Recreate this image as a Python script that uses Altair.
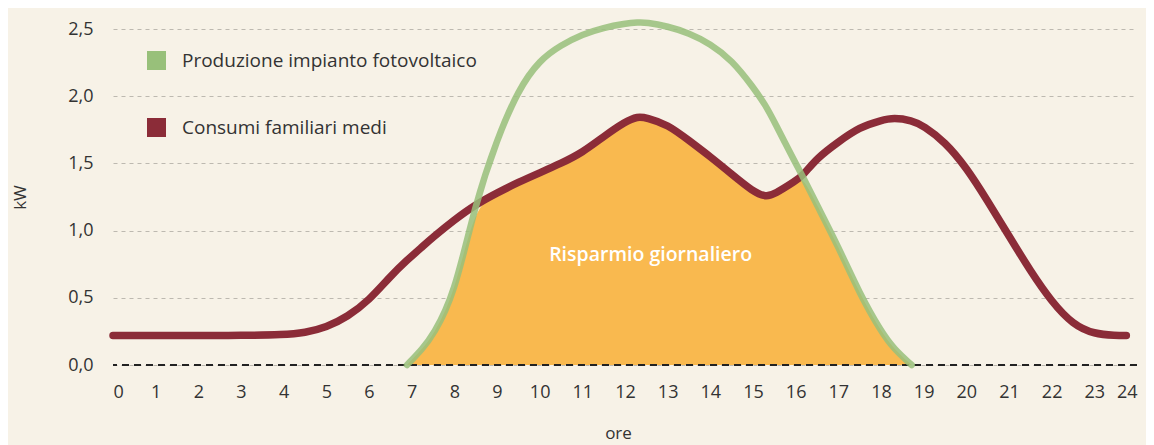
import altair as alt
import pandas as pd

# hours of the day (common grid)
hours = [0, 1, 2, 3, 4, 4.5, 5, 5.5, 6, 6.5, 6.89, 7.25, 7.5, 8, 8.48, 9, 9.5, 10, 10.5, 11,
         11.5, 12, 12.3, 12.5, 13, 13.5, 14, 14.5, 15, 15.3, 15.5, 16, 16.17, 16.5, 17,
         17.5, 18, 18.3, 18.72, 19, 19.5, 20, 20.5, 21, 21.5, 22, 22.5, 23, 23.5, 23.75]

# average household consumption (kW)
consumi = [0.22, 0.22, 0.22, 0.22, 0.225, 0.24, 0.28, 0.36, 0.48, 0.66, 0.78, 0.88, 0.95,
           1.08, 1.19, 1.28, 1.36, 1.43, 1.5, 1.58, 1.7, 1.81, 1.85, 1.84, 1.79, 1.67, 1.55,
           1.42, 1.29, 1.25, 1.27, 1.37, 1.41, 1.54, 1.66, 1.77, 1.82, 1.84, 1.82, 1.78, 1.66,
           1.47, 1.22, 0.96, 0.7, 0.47, 0.3, 0.23, 0.22, 0.22]

# photovoltaic production (kW), None when no production
produzione = [None, None, None, None, None, None, None, None, None, None, 0.0, 0.12, 0.22,
              0.52, 1.19, 1.68, 2.05, 2.27, 2.38, 2.46, 2.51, 2.54, 2.55, 2.55, 2.52, 2.47,
              2.39, 2.27, 2.07, 1.93, 1.81, 1.5, 1.4, 1.19, 0.88, 0.53, 0.25, 0.12, 0.0, None,
              None, None, None, None, None, None, None, None, None, None]

y_ticks = [0, 0.5, 1.0, 1.5, 2.0, 2.5]
x_ticks = list(range(0, 25))

serie = ["Produzione impianto fotovoltaico", "Consumi familiari medi"]
colori = ["#98C07A", "#8B2C38"]

df = pd.DataFrame({"ora": hours, "consumi": consumi, "produzione": produzione})
df["produzione"] = pd.to_numeric(df["produzione"])
pv = df.dropna(subset=["produzione"]).copy()
pv["risparmio"] = pv[["consumi", "produzione"]].min(axis=1)

cons_df = pd.DataFrame({"ora": hours, "kW": consumi, "serie": serie[1]})
pv_df = pd.DataFrame({"ora": pv["ora"], "kW": pv["produzione"], "serie": serie[0]})
legend_df = pd.concat([pv_df, cons_df])

label_df = pd.DataFrame({"ora": [12.6], "kW": [0.82], "testo": ["Risparmio giornaliero"]})

FONT = "Open Sans"
INTERP = "basis"

x_enc = alt.X("ora:Q", scale=alt.Scale(domain=[0, 24], nice=False),
              axis=alt.Axis(values=x_ticks, format="d", grid=False, domain=False, ticks=False,
                            labelFontSize=18, labelPadding=18, labelColor="#333",
                            title="ore", titleFontSize=17, titleFontWeight="normal",
                            titleColor="#333", titlePadding=24, titleX=505,
                            labelFont=FONT, titleFont=FONT),
              title="ore")

y_scale = alt.Scale(domain=[0, 2.5], nice=False)
y_axis = alt.Axis(values=y_ticks, labelExpr="replace(format(datum.value, '.1f'), '.', ',')",
                  domain=False, ticks=False, grid=True, gridDash=[4, 4], gridColor="#BDB9B0",
                  gridWidth=1, labelFontSize=18, labelPadding=20, labelColor="#333",
                  title="kW", titleFontSize=17, titleFontWeight="normal", titleColor="#333",
                  titlePadding=38, labelFont=FONT, titleFont=FONT)

color_scale = alt.Scale(domain=serie, range=colori)

area = alt.Chart(pv).mark_area(interpolate=INTERP, color="#F9B94F").encode(
    x=x_enc,
    y=alt.Y("risparmio:Q", scale=y_scale, axis=y_axis),
)

zero = alt.Chart(pd.DataFrame({"v": [0]})).mark_rule(
    color="#222", strokeDash=[7, 5], strokeWidth=2
).encode(y=alt.Y("v:Q", scale=y_scale))

legend_layer = alt.Chart(legend_df).mark_square(opacity=0, size=10).encode(
    x="ora:Q",
    y=alt.Y("kW:Q", scale=y_scale),
    color=alt.Color("serie:N", scale=color_scale, sort=serie,
                    legend=alt.Legend(title=None, orient="none", legendX=34, legendY=22,
                                      symbolType="square", symbolSize=361, symbolOpacity=1,
                                      symbolStrokeWidth=0, labelFontSize=19, labelFont=FONT,
                                      labelColor="#333", rowPadding=47, labelOffset=16,
                                      labelLimit=0, padding=0)),
)

red = alt.Chart(cons_df).mark_line(
    interpolate=INTERP, strokeWidth=7.5, strokeCap="round"
).encode(
    x="ora:Q",
    y=alt.Y("kW:Q", scale=y_scale),
    color=alt.Color("serie:N", scale=color_scale, legend=None),
)

green = alt.Chart(pv_df).mark_line(
    interpolate=INTERP, strokeWidth=6.5, strokeCap="round", opacity=0.85
).encode(
    x="ora:Q",
    y=alt.Y("kW:Q", scale=y_scale),
    color=alt.Color("serie:N", scale=color_scale, legend=None),
)

testo = alt.Chart(label_df).mark_text(
    color="white", fontSize=19.5, fontWeight=600, font=FONT
).encode(x="ora:Q", y=alt.Y("kW:Q", scale=y_scale), text="testo:N")

chart = alt.layer(area, zero, legend_layer, red, green, testo).properties(
    width=1024, height=336,
    autosize=alt.AutoSizeParams(type="none"),
    padding={"left": 105, "top": 21, "right": 9, "bottom": 80},
    background="#F7F2E7",
).configure_view(stroke=None)

chart.save("out.html", embed_options={"renderer": "svg", "actions": False})
